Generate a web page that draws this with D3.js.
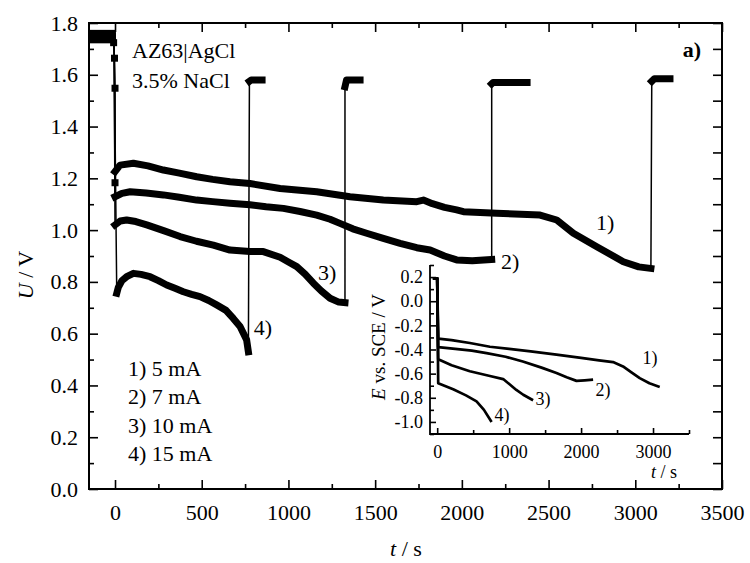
<!DOCTYPE html>
<html>
<head>
<meta charset="utf-8">
<script src="https://cdn.jsdelivr.net/npm/d3@7"></script>
<style>
  body { margin: 0; background: #fff; }
  svg { display: block; font-family: "Liberation Serif", "Times New Roman", serif; }
  .axis text { fill: #000; font-family: "Liberation Serif", "Times New Roman", serif; }
  .axis line { stroke: #000; }
</style>
</head>
<body>
<div id="chart"></div>
<script>
// ---- data ----
const seriesLabels = ['1)', '2)', '3)', '4)'];
const legendItems = ['1) 5 mA', '2) 7 mA', '3) 10 mA', '4) 15 mA'];

// open-circuit part before discharge starts
const ocpLevels = [1.76, 1.75, 1.74, 1.735];
const ocpTimes = [-150, -15];

// drop at t = 0 (markers of the 5 mA run)
const drop1 = [[-8, 1.724], [-3, 1.664], [0, 1.548], [0, 1.183]];

const discharge1 = [[0, 1.226], [29, 1.251], [106, 1.258], [190, 1.248], [279, 1.232], [371, 1.22],
  [471, 1.206], [563, 1.196], [663, 1.187], [778, 1.18], [952, 1.161], [1163, 1.148], [1355, 1.129],
  [1547, 1.116], [1740, 1.11], [1778, 1.116], [1830, 1.102], [1900, 1.088], [1970, 1.078], [2009, 1.071],
  [2201, 1.065], [2451, 1.058], [2547, 1.039], [2643, 0.988], [2778, 0.936], [2931, 0.878],
  [3020, 0.858], [3090, 0.852]];
const discharge2 = [[0, 1.129], [40, 1.142], [87, 1.148], [180, 1.143], [279, 1.136], [371, 1.127],
  [471, 1.116], [563, 1.11], [663, 1.104], [778, 1.098], [871, 1.09], [971, 1.084], [1067, 1.072],
  [1163, 1.058], [1240, 1.042], [1297, 1.026], [1371, 1.005], [1451, 0.988], [1547, 0.968],
  [1644, 0.949], [1740, 0.932], [1817, 0.923], [1900, 0.9], [1970, 0.885], [2060, 0.882], [2172, 0.887]];
const discharge3 = [[0, 1.02], [30, 1.035], [67, 1.039], [120, 1.033], [183, 1.02], [280, 0.998],
  [375, 0.975], [470, 0.957], [567, 0.942], [663, 0.923], [778, 0.917], [855, 0.917], [952, 0.895],
  [1000, 0.877], [1048, 0.859], [1096, 0.83], [1144, 0.795], [1190, 0.765], [1240, 0.737],
  [1290, 0.722], [1326, 0.72]];
const discharge4 = [[10, 0.756], [19, 0.779], [40, 0.805], [67, 0.82], [106, 0.833], [150, 0.829],
  [202, 0.82], [250, 0.805], [298, 0.788], [346, 0.775], [394, 0.762], [442, 0.752], [490, 0.743],
  [540, 0.728], [586, 0.711], [640, 0.69], [682, 0.659], [721, 0.628], [759, 0.576], [769, 0.53]];

// recovery after current switched off
const recovery1 = [[3095, 1.575], [3110, 1.585], [3200, 1.585]];
const recovery2 = [[2172, 1.565], [2180, 1.57], [2376, 1.57]];
const recovery3 = [[1326, 1.554], [1335, 1.58], [1413, 1.58]];
const recovery4 = [[775, 1.575], [785, 1.58], [848, 1.58]];

// inset: E vs. SCE
const insetOcp = 0.19;
const inset1 = [[14, -0.31], [200, -0.322], [454, -0.346], [733, -0.377], [1000, -0.395], [1300, -0.415],
  [1658, -0.443], [2000, -0.47], [2250, -0.49], [2444, -0.504], [2583, -0.54], [2700, -0.59],
  [2815, -0.637], [2950, -0.68], [3093, -0.71]];
const inset2 = [[14, -0.38], [250, -0.395], [480, -0.41], [686, -0.43], [950, -0.46], [1190, -0.5],
  [1450, -0.55], [1658, -0.595], [1800, -0.63], [1936, -0.66], [2050, -0.655], [2167, -0.65]];
const inset3 = [[14, -0.48], [200, -0.53], [454, -0.58], [733, -0.62], [917, -0.645], [1010, -0.69],
  [1100, -0.735], [1196, -0.775], [1333, -0.82]];
const inset4 = [[14, -0.68], [222, -0.73], [400, -0.78], [547, -0.83], [650, -0.9], [756, -1.0]];

const xTicks = [0, 500, 1000, 1500, 2000, 2500, 3000, 3500];
const xMinor = [250, 750, 1250, 1750, 2250, 2750, 3250];
const yTicks = [0, 0.2, 0.4, 0.6, 0.8, 1.0, 1.2, 1.4, 1.6, 1.8];
const yMinor = [0.1, 0.3, 0.5, 0.7, 0.9, 1.1, 1.3, 1.5, 1.7];
const insetXTicks = [0, 1000, 2000, 3000];
const insetXMinor = [500, 1500, 2500, 3500];
const insetYTicks = [-1.0, -0.8, -0.6, -0.4, -0.2, 0.0, 0.2];
const insetYMinor = [-1.1, -0.9, -0.7, -0.5, -0.3, -0.1, 0.1, 0.3];

// ---- drawing ----
const serif = '"Liberation Serif", "Times New Roman", serif';
const svg = d3.select('#chart').append('svg')
  .attr('width', 750)
  .attr('height', 563);

const x = d3.scaleLinear().domain([-150, 3500]).range([89, 722]);
const y = d3.scaleLinear().domain([0, 1.8]).range([489, 23]);

svg.append('clipPath').attr('id', 'plotclip')
  .append('rect')
  .attr('x', 89).attr('y', 23)
  .attr('width', 722 - 89).attr('height', 489 - 23);

const addAxis = (axis, tx, ty, size) => {
  const g = svg.append('g')
    .attr('class', 'axis')
    .attr('transform', `translate(${tx},${ty})`)
    .call(axis)
    .attr('font-size', size)
    .style('font-family', serif);
  g.select('.domain').remove();
  g.selectAll('line').attr('stroke-width', 1.6);
  return g;
};

// main axes, ticks pointing inwards
addAxis(d3.axisBottom(x).tickValues(xTicks).tickSize(-9).tickPadding(15).tickFormat(d3.format('d')), 0, 489, 22);
addAxis(d3.axisBottom(x).tickValues(xMinor).tickSize(-5).tickFormat(''), 0, 489, 22);
addAxis(d3.axisTop(x).tickValues(xTicks).tickSize(-9).tickFormat(''), 0, 23, 22);
addAxis(d3.axisTop(x).tickValues(xMinor).tickSize(-5).tickFormat(''), 0, 23, 22);
addAxis(d3.axisLeft(y).tickValues(yTicks).tickSize(-9).tickPadding(11).tickFormat(d3.format('.1f')), 89, 0, 22);
addAxis(d3.axisLeft(y).tickValues(yMinor).tickSize(-5).tickFormat(''), 89, 0, 22);
addAxis(d3.axisRight(y).tickValues(yTicks).tickSize(-9).tickFormat(''), 722, 0, 22);
addAxis(d3.axisRight(y).tickValues(yMinor).tickSize(-9).tickFormat(''), 722, 0, 22);

svg.append('rect')
  .attr('x', 89).attr('y', 23)
  .attr('width', 722 - 89).attr('height', 489 - 23)
  .attr('fill', 'none')
  .attr('stroke', '#000')
  .attr('stroke-width', 2);

const line = d3.line().x(d => x(d[0])).y(d => y(d[1]));
const plot = svg.append('g').attr('clip-path', 'url(#plotclip)');

const runs = [
  { ocp: ocpLevels[0], drop: drop1, dis: discharge1, rec: recovery1 },
  { ocp: ocpLevels[1], drop: [[-5, 1.72]], dis: discharge2, rec: recovery2 },
  { ocp: ocpLevels[2], drop: [[-5, 1.72]], dis: discharge3, rec: recovery3 },
  { ocp: ocpLevels[3], drop: [[-5, 1.72]], dis: discharge4, rec: recovery4 }
];

runs.forEach(r => {
  const ocp = ocpTimes.map(t => [t, r.ocp]);
  const all = ocp.concat(r.drop, r.dis, r.rec);
  // thin connecting line (where samples are sparse)
  plot.append('path')
    .attr('d', line(all))
    .attr('fill', 'none')
    .attr('stroke', '#000')
    .attr('stroke-width', 1.5);
  // dense square symbols appear as a thick band
  [ocp, r.dis, r.rec].forEach(part => {
    plot.append('path')
      .attr('d', line(part))
      .attr('fill', 'none')
      .attr('stroke', '#000')
      .attr('stroke-width', 7)
      .attr('stroke-linejoin', 'round')
      .attr('stroke-linecap', 'square');
  });
});

plot.selectAll('rect.drop')
  .data(drop1)
  .enter().append('rect')
  .attr('class', 'drop')
  .attr('x', d => x(d[0]) - 3.5)
  .attr('y', d => y(d[1]) - 3.5)
  .attr('width', 7)
  .attr('height', 7)
  .attr('fill', '#000');

// curve labels
const labelPos = [[2826, 1.0], [2278, 0.85], [1223, 0.807], [853, 0.595]];
svg.selectAll('text.clab')
  .data(seriesLabels)
  .enter().append('text')
  .attr('class', 'clab')
  .attr('x', (d, i) => x(labelPos[i][0]))
  .attr('y', (d, i) => y(labelPos[i][1]))
  .attr('text-anchor', 'middle')
  .style('font-size', '22px')
  .text(d => d);

// texts
svg.append('text').attr('x', 132).attr('y', 58).style('font-size', '22px').text('AZ63|AgCl');
svg.append('text').attr('x', 132).attr('y', 88).style('font-size', '22px').text('3.5% NaCl');
svg.append('text').attr('x', 701).attr('y', 57).attr('text-anchor', 'end')
  .style('font-size', '22px').style('font-weight', 'bold').text('a)');

svg.selectAll('text.leg')
  .data(legendItems)
  .enter().append('text')
  .attr('class', 'leg')
  .attr('x', 128)
  .attr('y', (d, i) => 376 + i * 28.4)
  .style('font-size', '22px')
  .text(d => d);

// axis titles
const xt = svg.append('text').attr('x', 406).attr('y', 556).attr('text-anchor', 'middle').style('font-size', '22px');
xt.append('tspan').style('font-style', 'italic').text('t');
xt.append('tspan').text(' / s');

const yt = svg.append('text').attr('transform', 'translate(33,275) rotate(-90)')
  .attr('text-anchor', 'middle').style('font-size', '22px');
yt.append('tspan').style('font-style', 'italic').text('U');
yt.append('tspan').text(' / V');

// ---- inset ----
const ix = d3.scaleLinear().domain([-100, 3500]).range([430, 689]);
const iy = d3.scaleLinear().domain([-1.1, 0.3]).range([434, 265]);

addAxis(d3.axisBottom(ix).tickValues(insetXTicks).tickSize(-6).tickPadding(11).tickFormat(d3.format('d')), 0, 434, 18);
addAxis(d3.axisBottom(ix).tickValues(insetXMinor).tickSize(-4).tickFormat(''), 0, 434, 18);
addAxis(d3.axisLeft(iy).tickValues(insetYTicks).tickSize(-6).tickPadding(7).tickFormat(d => d.toFixed(1)), 430, 0, 18);
addAxis(d3.axisLeft(iy).tickValues(insetYMinor).tickSize(-4).tickFormat(''), 430, 0, 18);

svg.append('path')
  .attr('d', `M${ix(-100)},${iy(0.3)}V${iy(-1.1)}H${ix(3500)}`)
  .attr('fill', 'none')
  .attr('stroke', '#000')
  .attr('stroke-width', 1.8);

const iline = d3.line().x(d => ix(d[0])).y(d => iy(d[1]));
[inset1, inset2, inset3, inset4].forEach(s => {
  const pts = [[-60, insetOcp], [0, insetOcp]].concat(s);
  svg.append('path')
    .attr('d', iline(pts))
    .attr('fill', 'none')
    .attr('stroke', '#000')
    .attr('stroke-width', 2.7)
    .attr('stroke-linejoin', 'round');
});

const insetLabelPos = [[2958, -0.52], [2305, -0.785], [1471, -0.86], [901, -0.99]];
svg.selectAll('text.ilab')
  .data(seriesLabels)
  .enter().append('text')
  .attr('class', 'ilab')
  .attr('x', (d, i) => ix(insetLabelPos[i][0]))
  .attr('y', (d, i) => iy(insetLabelPos[i][1]))
  .attr('text-anchor', 'middle')
  .style('font-size', '18px')
  .text(d => d);

const ixt = svg.append('text').attr('x', 664).attr('y', 478).attr('text-anchor', 'middle').style('font-size', '18px');
ixt.append('tspan').style('font-style', 'italic').text('t');
ixt.append('tspan').text(' / s');

const iyt = svg.append('text').attr('transform', 'translate(385,347) rotate(-90)')
  .attr('text-anchor', 'middle').style('font-size', '19px');
iyt.append('tspan').style('font-style', 'italic').text('E');
iyt.append('tspan').text(' vs. SCE / V');
</script>
</body>
</html>
